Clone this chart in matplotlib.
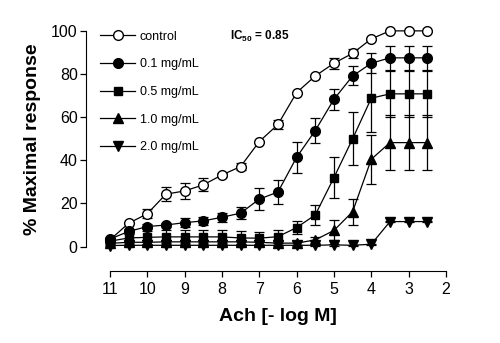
import matplotlib
matplotlib.use('Agg')
import matplotlib.pyplot as plt
from matplotlib.lines import Line2D

plt.rcParams['font.family'] = ['Liberation Sans', 'DejaVu Sans']
plt.rcParams['mathtext.fontset'] = 'custom'
plt.rcParams['mathtext.bf'] = 'Liberation Sans:bold'
plt.rcParams['mathtext.rm'] = 'Liberation Sans'

# Ach concentration (-log M)
x = [11, 10.5, 10, 9.5, 9, 8.5, 8, 7.5, 7, 6.5, 6, 5.5, 5, 4.5, 4, 3.5, 3, 2.5]

control = [3.1, 10.8, 15.2, 24.3, 25.8, 28.6, 33.2, 37.1, 48.7, 56.6, 71.4, 79.1, 85.0, 89.6, 96.3, 100, 100, 100]
control_err = [0, 0, 2.0, 3.3, 3.9, 3.0, 1.0, 1.8, 0, 2.3, 0, 0, 2.5, 2.0, 0, 0, 0, 0]

d01 = [3.5, 7.0, 9.3, 10.0, 11.1, 11.9, 13.6, 15.5, 22.0, 25.3, 41.4, 53.8, 68.3, 79.1, 85.0, 87.5, 87.5, 87.5]
d01_err = [0, 1.0, 1.0, 1.0, 2.0, 2.0, 2.0, 2.8, 5.2, 5.6, 7.2, 5.8, 4.8, 4.4, 4.6, 5.6, 5.6, 5.6]

d05 = [2.5, 4.0, 4.3, 4.5, 4.5, 4.5, 4.5, 4.0, 3.9, 4.6, 8.8, 14.7, 32.0, 50.0, 68.8, 70.8, 70.8, 70.8]
d05_err = [1.0, 2.5, 3, 3, 3, 3, 3, 3, 3, 3, 3, 4.6, 9.4, 12.4, 15.5, 10.8, 10.8, 10.8]

d10 = [1.5, 2.0, 2.0, 2.2, 2.2, 2.2, 2.2, 2.2, 2.0, 1.6, 1.6, 3.1, 7.5, 16.2, 40.5, 48.2, 48.2, 48.2]
d10_err = [0.5, 1, 1, 1, 1, 1, 1, 1, 1, 1, 1, 1.5, 4.6, 6.0, 11.4, 12.7, 12.7, 12.7]

d20 = [0.5, 0.6, 0.6, 0.6, 0.6, 0.6, 0.6, 0.6, 0.6, 0.6, 0.6, 0.6, 0.8, 0.6, 1.1, 11.6, 11.6, 11.6]
d20_err = [0.3] * 18

labels = ['control', '0.1 mg/mL', '0.5 mg/mL', '1.0 mg/mL', '2.0 mg/mL']

fig = plt.figure(figsize=(5, 3.43), dpi=100)
ax = fig.add_axes([0.172, 0.21, 0.72, 0.70])

series = [
    (control, control_err, 'o', 'white', 7),
    (d01, d01_err, 'o', 'black', 7),
    (d05, d05_err, 's', 'black', 6.3),
    (d10, d10_err, '^', 'black', 7),
    (d20, d20_err, 'v', 'black', 7),
]
handles = []
for (y, err, m, fc, ms), lab in zip(series, labels):
    ax.errorbar(x, y, yerr=err, fmt='-', marker=m, color='black', mfc=fc, mec='black',
                ms=ms, lw=0.9, elinewidth=0.9, capsize=3.5, capthick=0.9,
                clip_on=False, zorder=3)
    handles.append(Line2D([], [], color='black', lw=0.9, marker=m, mfc=fc,
                          mec='black', ms=ms, label=lab))

ax.set_xlim(11.64, 2)
ax.set_ylim(-11.3, 100)
ax.spines['top'].set_visible(False)
ax.spines['right'].set_visible(False)
ax.spines['left'].set_bounds(0, 100)
ax.spines['bottom'].set_bounds(11, 2)
ax.set_xticks(range(11, 1, -1))
ax.set_yticks([0, 20, 40, 60, 80, 100])
ax.tick_params(labelsize=11.5, length=4, width=0.9, pad=2)
ax.tick_params(axis='x', pad=4)

ax.set_xlabel('Ach [- log M]', fontsize=14, fontweight='bold')
ax.set_ylabel('% Maximal response', fontsize=14, fontweight='bold')
ax.xaxis.set_label_coords((11.64 - 6.5) / 9.64, -0.155)
ax.yaxis.set_label_coords(-0.125, 61.3 / 111.3)

ax.text(0.40, 0.975, r'IC$_{\mathbf{50}}$ = 0.85', transform=ax.transAxes,
        fontsize=8.5, fontweight='bold', va='center', ha='left')

ax.legend(handles=handles, loc='upper left', bbox_to_anchor=(0.2, 0.91),
          bbox_transform=fig.transFigure, frameon=False, fontsize=9,
          handlelength=2.8, handletextpad=0.4, labelspacing=1.25,
          borderpad=0, borderaxespad=0)

fig.savefig('out.png', dpi=100)
